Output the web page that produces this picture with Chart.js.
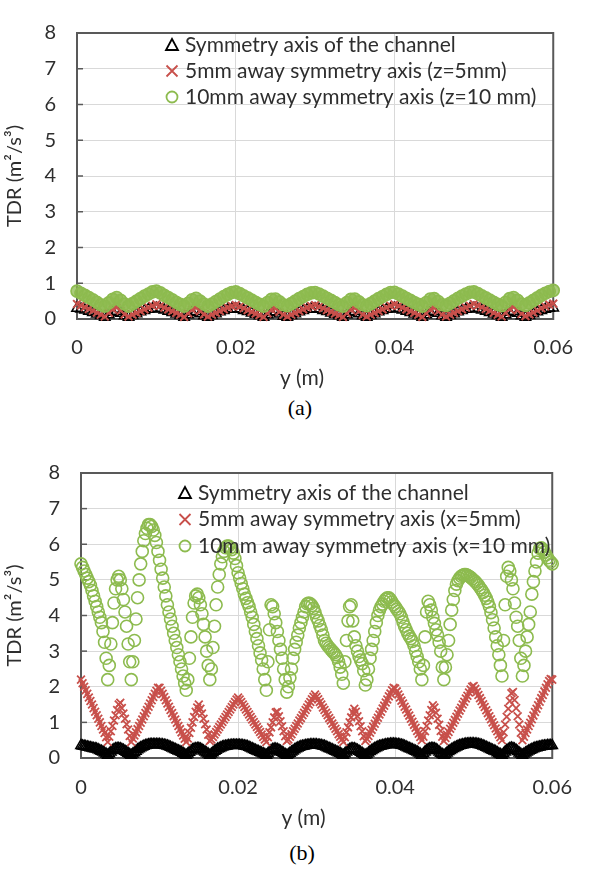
<!DOCTYPE html>
<html lang="en">
<head>
<meta charset="utf-8">
<title>TDR</title>
<script src="https://cdn.jsdelivr.net/npm/chart.js@4.4.1/dist/chart.umd.min.js"></script>
<style>
    html, body { margin: 0; padding: 0; background: #fff; }
    body { width: 590px; height: 872px; position: relative; overflow: hidden; }
    .grafico { position: absolute; left: 0; width: 590px; height: 395px; }
    .rotulo-fig { position: absolute; width: 100px; text-align: center; line-height: 24px;
        font-family: "Liberation Serif", "Times New Roman", serif; font-size: 22px; color: #000; }
</style>
</head>
<body>
<div class="grafico" style="top:0"><canvas id="graficoA" width="590" height="395"></canvas></div>
<div class="rotulo-fig" style="top:396px; left:250px">(a)</div>
<div class="grafico" style="top:440px"><canvas id="graficoB" width="590" height="395"></canvas></div>
<div class="rotulo-fig" style="top:841px; left:252px">(b)</div>
<script>
// Posições ao longo de y (mm) - gráfico (a)
const posicoesA = [
    0,0.5,1,1.5,2,2.5,3,3.5,4,4.5,
    5,5.5,6,6.5,7,7.5,8,8.5,9,9.5,
    10,10.5,11,11.5,12,12.5,13,13.5,14,14.5,
    15,15.5,16,16.5,17,17.5,18,18.5,19,19.5,
    20,20.5,21,21.5,22,22.5,23,23.5,24,24.5,
    25,25.5,26,26.5,27,27.5,28,28.5,29,29.5,
    30,30.5,31,31.5,32,32.5,33,33.5,34,34.5,
    35,35.5,36,36.5,37,37.5,38,38.5,39,39.5,
    40,40.5,41,41.5,42,42.5,43,43.5,44,44.5,
    45,45.5,46,46.5,47,47.5,48,48.5,49,49.5,
    50,50.5,51,51.5,52,52.5,53,53.5,54,54.5,
    55,55.5,56,56.5,57,57.5,58,58.5,59,59.5,
    60
];

// TDR (m²/s³) - gráfico (a)
const eixoSimetriaA = [
    0.3,0.28,0.25,0.22,0.18,0.14,0.1,0.05,0.12,0.19,
    0.22,0.16,0.09,0.05,0.1,0.15,0.2,0.24,0.27,0.29,
    0.3,0.28,0.25,0.22,0.18,0.14,0.1,0.05,0.12,0.19,
    0.21,0.15,0.09,0.05,0.1,0.15,0.2,0.24,0.27,0.29,
    0.29,0.27,0.24,0.21,0.17,0.13,0.09,0.05,0.12,0.18,
    0.2,0.14,0.08,0.05,0.1,0.15,0.2,0.24,0.27,0.29,
    0.29,0.27,0.24,0.21,0.17,0.13,0.09,0.05,0.12,0.18,
    0.21,0.15,0.09,0.05,0.1,0.15,0.2,0.24,0.27,0.29,
    0.3,0.28,0.25,0.22,0.18,0.14,0.1,0.05,0.12,0.19,
    0.22,0.16,0.09,0.05,0.1,0.15,0.2,0.24,0.27,0.29,
    0.3,0.28,0.25,0.22,0.18,0.14,0.1,0.05,0.12,0.19,
    0.22,0.16,0.09,0.05,0.1,0.15,0.2,0.24,0.27,0.3,
    0.31
];
const afastado5A = [
    0.42,0.38,0.33,0.28,0.23,0.18,0.12,0.07,0.17,0.27,
    0.32,0.23,0.13,0.07,0.12,0.17,0.22,0.27,0.32,0.37,
    0.41,0.37,0.32,0.27,0.22,0.17,0.12,0.06,0.16,0.26,
    0.31,0.22,0.13,0.07,0.12,0.17,0.22,0.27,0.32,0.36,
    0.39,0.35,0.3,0.25,0.2,0.15,0.11,0.06,0.16,0.26,
    0.29,0.2,0.12,0.07,0.12,0.17,0.22,0.27,0.32,0.36,
    0.39,0.35,0.3,0.25,0.2,0.15,0.11,0.06,0.16,0.26,
    0.3,0.21,0.12,0.07,0.12,0.17,0.22,0.27,0.32,0.37,
    0.41,0.37,0.32,0.27,0.22,0.17,0.12,0.06,0.16,0.26,
    0.31,0.21,0.12,0.07,0.12,0.17,0.22,0.27,0.32,0.37,
    0.42,0.38,0.33,0.28,0.23,0.17,0.12,0.07,0.17,0.28,
    0.33,0.24,0.14,0.08,0.13,0.18,0.24,0.3,0.35,0.4,
    0.43
];
const afastado10A = [
    0.78,0.72,0.66,0.6,0.54,0.47,0.4,0.36,0.45,0.55,
    0.6,0.52,0.42,0.36,0.43,0.5,0.57,0.64,0.7,0.76,
    0.78,0.73,0.66,0.6,0.54,0.47,0.41,0.36,0.44,0.54,
    0.58,0.5,0.42,0.36,0.42,0.49,0.56,0.63,0.69,0.74,
    0.76,0.71,0.65,0.59,0.53,0.47,0.41,0.36,0.46,0.55,
    0.56,0.48,0.4,0.37,0.43,0.5,0.57,0.63,0.69,0.73,
    0.74,0.7,0.64,0.58,0.52,0.46,0.4,0.36,0.46,0.55,
    0.56,0.48,0.4,0.37,0.43,0.5,0.57,0.63,0.69,0.74,
    0.75,0.7,0.64,0.58,0.52,0.46,0.41,0.36,0.46,0.56,
    0.57,0.49,0.4,0.38,0.44,0.51,0.58,0.64,0.7,0.75,
    0.76,0.71,0.65,0.59,0.53,0.47,0.41,0.37,0.47,0.57,
    0.6,0.52,0.42,0.38,0.45,0.52,0.59,0.66,0.72,0.77,
    0.8
];

// Posições ao longo de y (mm) - gráfico (b)
const posicoesB = [
    0,0.2,0.4,0.6,0.8,1,1.2,1.4,1.6,1.8,
    2,2.2,2.4,2.6,2.8,3,3.2,3.4,3.6,3.8,
    4,4.2,4.4,4.6,4.8,5,5.2,5.4,5.6,5.8,
    6,6.2,6.4,6.6,6.8,7,7.2,7.4,7.6,7.8,
    8,8.2,8.4,8.6,8.8,9,9.2,9.4,9.6,9.8,
    10,10.2,10.4,10.6,10.8,11,11.2,11.4,11.6,11.8,
    12,12.2,12.4,12.6,12.8,13,13.2,13.4,13.6,13.8,
    14,14.2,14.4,14.6,14.8,15,15.2,15.4,15.6,15.8,
    16,16.2,16.4,16.6,16.8,17,17.2,17.4,17.6,17.8,
    18,18.2,18.4,18.6,18.8,19,19.2,19.4,19.6,19.8,
    20,20.2,20.4,20.6,20.8,21,21.2,21.4,21.6,21.8,
    22,22.2,22.4,22.6,22.8,23,23.2,23.4,23.6,23.8,
    24,24.2,24.4,24.6,24.8,25,25.2,25.4,25.6,25.8,
    26,26.2,26.4,26.6,26.8,27,27.2,27.4,27.6,27.8,
    28,28.2,28.4,28.6,28.8,29,29.2,29.4,29.6,29.8,
    30,30.2,30.4,30.6,30.8,31,31.2,31.4,31.6,31.8,
    32,32.2,32.4,32.6,32.8,33,33.2,33.4,33.6,33.8,
    34,34.2,34.4,34.6,34.8,35,35.2,35.4,35.6,35.8,
    36,36.2,36.4,36.6,36.8,37,37.2,37.4,37.6,37.8,
    38,38.2,38.4,38.6,38.8,39,39.2,39.4,39.6,39.8,
    40,40.2,40.4,40.6,40.8,41,41.2,41.4,41.6,41.8,
    42,42.2,42.4,42.6,42.8,43,43.2,43.4,43.6,43.8,
    44,44.2,44.4,44.6,44.8,45,45.2,45.4,45.6,45.8,
    46,46.2,46.4,46.6,46.8,47,47.2,47.4,47.6,47.8,
    48,48.2,48.4,48.6,48.8,49,49.2,49.4,49.6,49.8,
    50,50.2,50.4,50.6,50.8,51,51.2,51.4,51.6,51.8,
    52,52.2,52.4,52.6,52.8,53,53.2,53.4,53.6,53.8,
    54,54.2,54.4,54.6,54.8,55,55.2,55.4,55.6,55.8,
    56,56.2,56.4,56.6,56.8,57,57.2,57.4,57.6,57.8,
    58,58.2,58.4,58.6,58.8,59,59.2,59.4,59.6,59.8,
    60
];

// TDR (m²/s³) - gráfico (b)
const eixoSimetriaB = [
    0.35,0.34,0.33,0.32,0.31,0.3,0.29,0.28,0.27,0.26,
    0.25,0.23,0.21,0.19,0.17,0.14,0.11,0.08,0.12,0.17,
    0.21,0.24,0.26,0.27,0.27,0.26,0.24,0.22,0.19,0.16,
    0.13,0.1,0.08,0.11,0.15,0.19,0.23,0.26,0.29,0.31,
    0.33,0.35,0.36,0.37,0.38,0.38,0.38,0.38,0.38,0.38,
    0.38,0.37,0.37,0.36,0.35,0.34,0.32,0.3,0.28,0.26,
    0.24,0.22,0.2,0.18,0.16,0.13,0.1,0.08,0.11,0.16,
    0.2,0.23,0.25,0.26,0.27,0.27,0.25,0.23,0.2,0.17,
    0.14,0.11,0.08,0.11,0.15,0.19,0.22,0.25,0.27,0.29,
    0.31,0.32,0.33,0.34,0.35,0.35,0.36,0.36,0.36,0.36,
    0.36,0.36,0.35,0.35,0.34,0.33,0.32,0.3,0.28,0.26,
    0.24,0.22,0.2,0.18,0.16,0.14,0.12,0.1,0.08,0.12,
    0.17,0.21,0.24,0.25,0.25,0.24,0.22,0.19,0.16,0.13,
    0.1,0.08,0.1,0.13,0.17,0.2,0.23,0.26,0.28,0.3,
    0.32,0.33,0.34,0.35,0.36,0.36,0.37,0.37,0.37,0.37,
    0.37,0.36,0.36,0.35,0.34,0.33,0.31,0.29,0.27,0.25,
    0.23,0.21,0.19,0.17,0.15,0.13,0.1,0.08,0.12,0.17,
    0.21,0.24,0.26,0.26,0.26,0.24,0.22,0.19,0.16,0.13,
    0.1,0.08,0.1,0.14,0.18,0.21,0.24,0.27,0.29,0.31,
    0.33,0.34,0.35,0.36,0.37,0.38,0.38,0.39,0.39,0.39,
    0.39,0.38,0.38,0.37,0.36,0.35,0.33,0.31,0.29,0.27,
    0.25,0.23,0.21,0.19,0.17,0.14,0.11,0.08,0.12,0.17,
    0.21,0.24,0.26,0.27,0.27,0.26,0.24,0.21,0.17,0.13,
    0.1,0.08,0.1,0.14,0.18,0.21,0.24,0.27,0.29,0.31,
    0.33,0.35,0.36,0.37,0.38,0.39,0.39,0.4,0.4,0.4,
    0.4,0.39,0.39,0.38,0.37,0.36,0.34,0.32,0.3,0.28,
    0.26,0.24,0.22,0.2,0.18,0.15,0.12,0.1,0.08,0.12,
    0.17,0.21,0.24,0.27,0.28,0.27,0.25,0.22,0.18,0.14,
    0.11,0.08,0.11,0.14,0.17,0.2,0.22,0.24,0.26,0.28,
    0.29,0.3,0.31,0.32,0.33,0.34,0.34,0.35,0.35,0.35,
    0.35
];
const afastado5B = [
    2.2,2.1,2.0,1.9,1.8,1.7,1.6,1.5,1.4,1.3,
    1.2,1.1,1.0,0.9,0.8,0.7,0.58,0.45,0.6,0.75,
    0.9,1.05,1.2,1.35,1.5,1.55,1.4,1.25,1.1,0.95,
    0.8,0.62,0.45,0.55,0.63,0.72,0.81,0.9,0.99,1.08,
    1.17,1.26,1.35,1.44,1.53,1.62,1.71,1.8,1.89,1.97,
    1.97,1.89,1.8,1.71,1.62,1.53,1.44,1.35,1.26,1.17,
    1.08,0.99,0.9,0.81,0.72,0.63,0.54,0.45,0.55,0.7,
    0.85,1.0,1.15,1.3,1.42,1.5,1.38,1.25,1.1,0.95,
    0.8,0.65,0.48,0.52,0.59,0.66,0.73,0.8,0.87,0.94,
    1.01,1.08,1.15,1.22,1.29,1.36,1.43,1.5,1.57,1.64,
    1.7,1.64,1.57,1.5,1.43,1.36,1.29,1.22,1.15,1.08,
    1.01,0.94,0.87,0.8,0.73,0.66,0.59,0.52,0.45,0.58,
    0.72,0.86,1.0,1.14,1.28,1.3,1.17,1.03,0.89,0.75,
    0.61,0.48,0.52,0.6,0.67,0.75,0.82,0.9,0.97,1.05,
    1.12,1.2,1.27,1.35,1.42,1.5,1.57,1.65,1.72,1.78,
    1.72,1.65,1.57,1.5,1.42,1.35,1.27,1.2,1.12,1.05,
    0.97,0.9,0.82,0.75,0.67,0.6,0.52,0.45,0.58,0.72,
    0.86,1.0,1.14,1.28,1.38,1.3,1.17,1.03,0.89,0.75,
    0.61,0.48,0.54,0.62,0.71,0.79,0.88,0.96,1.05,1.13,
    1.22,1.3,1.39,1.47,1.56,1.64,1.73,1.81,1.9,1.97,
    1.95,1.87,1.78,1.7,1.61,1.53,1.44,1.36,1.27,1.19,
    1.1,1.02,0.93,0.85,0.76,0.68,0.59,0.5,0.6,0.75,
    0.9,1.05,1.2,1.35,1.48,1.42,1.27,1.1,0.93,0.76,
    0.6,0.48,0.56,0.65,0.73,0.82,0.9,0.99,1.07,1.16,
    1.24,1.33,1.41,1.5,1.58,1.67,1.75,1.84,1.92,2.0,
    2.02,1.94,1.85,1.77,1.68,1.6,1.51,1.43,1.34,1.26,
    1.17,1.09,1.0,0.92,0.83,0.75,0.66,0.58,0.5,0.72,
    0.94,1.16,1.38,1.6,1.82,1.85,1.63,1.4,1.17,0.94,
    0.71,0.5,0.6,0.7,0.8,0.9,0.99,1.09,1.19,1.29,
    1.38,1.48,1.58,1.68,1.77,1.87,1.97,2.07,2.16,2.22,
    2.2
];
const afastado10B = [
    5.45,5.35,5.25,5.15,5.05,4.95,4.85,4.7,4.55,4.4,
    4.25,4.1,3.95,3.8,3.55,3.25,2.8,2.2,2.6,3.2,
    3.8,4.35,4.75,5.0,5.1,5.0,4.75,4.45,4.1,3.7,
    3.2,2.7,2.2,2.7,3.3,3.9,4.5,5.0,5.45,5.8,
    6.1,6.3,6.45,6.55,6.55,6.5,6.4,6.25,6.05,5.8,
    5.55,5.3,5.05,4.8,4.55,4.3,4.1,3.9,3.7,3.5,
    3.3,3.1,2.9,2.7,2.5,2.3,2.1,1.9,2.2,2.8,
    3.4,3.95,4.35,4.55,4.6,4.5,4.3,4.05,3.75,3.4,
    3.0,2.6,2.2,2.5,3.1,3.7,4.3,4.8,5.15,5.45,
    5.65,5.8,5.9,5.95,5.95,5.9,5.85,5.75,5.6,5.4,
    5.2,5.05,4.9,4.75,4.6,4.48,4.36,4.25,4.1,3.95,
    3.75,3.55,3.35,3.15,2.95,2.75,2.5,2.2,1.9,2.7,
    3.6,4.3,4.25,4.05,3.8,3.55,3.3,3.05,2.8,2.5,
    2.2,1.85,2.0,2.25,2.5,2.8,3.05,3.25,3.45,3.65,
    3.8,3.95,4.1,4.25,4.33,4.35,4.33,4.28,4.2,4.08,
    3.95,3.85,3.72,3.6,3.45,3.3,3.22,3.15,3.1,3.05,
    3.0,2.95,2.9,2.82,2.7,2.55,2.35,2.1,2.7,3.3,
    3.85,4.25,4.3,3.85,3.4,3.15,3.0,2.85,2.75,2.65,
    2.45,2.05,2.2,2.5,2.8,3.05,3.3,3.55,3.8,4.0,
    4.15,4.25,4.32,4.4,4.46,4.5,4.5,4.45,4.38,4.3,
    4.25,4.18,4.12,4.05,3.95,3.82,3.7,3.6,3.5,3.42,
    3.35,3.27,3.15,3.0,2.85,2.7,2.5,2.2,2.6,3.4,
    4.1,4.4,4.3,4.15,3.95,3.78,3.6,3.45,3.25,3.0,
    2.55,2.2,2.55,2.9,3.3,3.75,4.15,4.45,4.7,4.88,
    4.98,5.05,5.1,5.13,5.15,5.15,5.13,5.1,5.07,5.03,
    4.99,4.95,4.9,4.85,4.78,4.72,4.65,4.57,4.48,4.38,
    4.25,4.08,3.88,3.65,3.4,3.15,2.9,2.6,2.3,3.3,
    4.3,5.1,5.35,5.25,5.0,4.75,4.35,3.95,3.7,3.3,
    2.8,2.3,2.6,3.0,3.4,3.75,4.1,4.6,4.95,5.25,
    5.5,5.75,5.88,5.9,5.85,5.78,5.7,5.62,5.55,5.5,
    5.45
];

const rotulosA = ['Symmetry axis of the channel', '5mm away symmetry axis (z=5mm)', '10mm away symmetry axis (z=10 mm)'];
const rotulosB = ['Symmetry axis of the channel', '5mm away symmetry axis (x=5mm)', '10mm away symmetry axis (x=10 mm)'];
const ticksX = [0, 0.02, 0.04, 0.06];

const corTexto = '#2e2e2e';
const corVermelha = '#c8504b';
const corVerde = '#8dbb4f';
const fonte = 'Lato, "Open Sans", sans-serif';

// Junta posição (mm -> m) e valor em pontos {x, y}
function montarPontos(posMm, valores) {
    if (posMm.length !== valores.length) {
        console.error(`Tamanhos diferentes: ${posMm.length} / ${valores.length}`);
    }
    return posMm.map((p, i) => ({ x: p / 1000, y: valores[i] }));
}

function desenharMarcador(ctx, estilo, x, y, cor) {
    ctx.strokeStyle = cor;
    ctx.lineWidth = 1.8;
    ctx.beginPath();
    if (estilo === 'triangle') {
        ctx.moveTo(x, y - 6);
        ctx.lineTo(x + 6, y + 5);
        ctx.lineTo(x - 6, y + 5);
        ctx.closePath();
    } else if (estilo === 'crossRot') {
        ctx.moveTo(x - 5.5, y - 5.5); ctx.lineTo(x + 5.5, y + 5.5);
        ctx.moveTo(x + 5.5, y - 5.5); ctx.lineTo(x - 5.5, y + 5.5);
    } else {
        ctx.arc(x, y, 5.5, 0, Math.PI * 2);
    }
    ctx.stroke();
}

// Moldura da área do gráfico e marcas internas do eixo y
const molduraPlugin = {
    id: 'moldura',
    beforeDatasetsDraw(chart) {
        const { ctx, chartArea: a, scales } = chart;
        ctx.save();
        ctx.strokeStyle = '#595959';
        ctx.lineWidth = 1.5;
        scales.y.ticks.forEach(t => {
            const py = scales.y.getPixelForValue(t.value);
            ctx.beginPath();
            ctx.moveTo(a.left, py);
            ctx.lineTo(a.left + 6, py);
            ctx.stroke();
        });
        ctx.lineWidth = 2;
        ctx.strokeRect(a.left, a.top, a.right - a.left, a.bottom - a.top);
        ctx.restore();
    }
};

// Legenda desenhada dentro da área do gráfico
const legendaPlugin = {
    id: 'legendaInterna',
    afterDatasetsDraw(chart, args, opts) {
        const { ctx, chartArea: a } = chart;
        ctx.save();
        ctx.font = '21px ' + fonte;
        ctx.textBaseline = 'middle';
        ctx.textAlign = 'left';
        chart.data.datasets.forEach((ds, i) => {
            const y = a.top + opts.topo + i * opts.passo;
            desenharMarcador(ctx, ds.pointStyle, a.left + opts.marcador, y, ds.legendaCor);
            ctx.fillStyle = corTexto;
            ctx.fillText(ds.label, a.left + opts.texto, y);
        });
        ctx.restore();
    }
};

function criarGrafico(id, posicoes, series, rotulos, geo) {
    const ctx = document.getElementById(id).getContext('2d');
    return new Chart(ctx, {
        type: 'scatter',
        data: {
            datasets: [{
                label: rotulos[0],
                data: montarPontos(posicoes, series[0]),
                pointStyle: 'triangle',
                pointRadius: 6,
                borderColor: '#000000',
                backgroundColor: 'rgba(0,0,0,0)',
                borderWidth: 1.5,
                legendaCor: '#000000',
                clip: false,
                order: 2
            }, {
                label: rotulos[1],
                data: montarPontos(posicoes, series[1]),
                pointStyle: 'crossRot',
                pointRadius: 5.5,
                borderColor: corVermelha,
                backgroundColor: corVermelha,
                borderWidth: geo.larguraX,
                legendaCor: corVermelha,
                clip: false,
                order: 1
            }, {
                label: rotulos[2],
                data: montarPontos(posicoes, series[2]),
                pointStyle: 'circle',
                pointRadius: 6,
                borderColor: corVerde,
                backgroundColor: geo.fundoCirculo,
                borderWidth: 1.6,
                legendaCor: corVerde,
                clip: false,
                order: 0
            }]
        },
        options: {
            responsive: false,
            animation: false,
            layout: { padding: { left: 0, top: geo.topo, right: geo.direita, bottom: 0 } },
            scales: {
                x: {
                    type: 'linear',
                    min: 0,
                    max: 0.06,
                    afterFit: s => { s.height = geo.alturaX; },
                    afterBuildTicks: s => { s.ticks = ticksX.map(v => ({ value: v })); },
                    grid: { color: '#d9d9d9', lineWidth: 1, drawTicks: false },
                    border: { display: false },
                    ticks: {
                        padding: geo.padX,
                        color: corTexto,
                        font: { family: fonte, size: 20 },
                        callback: v => (v === 0 ? '0' : v.toFixed(2))
                    },
                    title: {
                        display: true,
                        // espaços no fim deslocam o título um pouco para a esquerda, como no original
                        text: 'y (m)\u2003\u2002',
                        color: corTexto,
                        font: { family: fonte, size: 21 },
                        padding: { top: 0, bottom: 4 }
                    }
                },
                y: {
                    min: 0,
                    max: 8,
                    afterFit: s => { s.width = geo.larguraY; },
                    grid: { color: '#d9d9d9', lineWidth: 1, drawTicks: false },
                    border: { display: false },
                    ticks: {
                        stepSize: 1,
                        padding: 21,
                        color: corTexto,
                        font: { family: fonte, size: 20 }
                    },
                    title: {
                        display: true,
                        text: 'TDR (m²/s³)',
                        color: corTexto,
                        font: { family: fonte, size: 20 },
                        padding: { top: 3, bottom: 0 }
                    }
                }
            },
            plugins: {
                legend: { display: false },
                tooltip: { enabled: false },
                legendaInterna: geo.legenda
            }
        },
        plugins: [molduraPlugin, legendaPlugin]
    });
}

const graficoA = criarGrafico('graficoA', posicoesA, [eixoSimetriaA, afastado5A, afastado10A], rotulosA, {
    topo: 15, direita: 22, alturaX: 76, larguraY: 77, larguraX: 2, padX: 17,
    fundoCirculo: 'rgba(141,187,79,0.75)',
    legenda: { topo: 12, passo: 26, marcador: 95, texto: 108 }
});

const graficoB = criarGrafico('graficoB', posicoesB, [eixoSimetriaB, afastado5B, afastado10B], rotulosB, {
    topo: 14, direita: 21, alturaX: 77, larguraY: 81, larguraX: 1.8, padX: 18,
    fundoCirculo: 'rgba(0,0,0,0)',
    legenda: { topo: 20, passo: 26.5, marcador: 104, texto: 117 }
});
</script>
</body>
</html>
